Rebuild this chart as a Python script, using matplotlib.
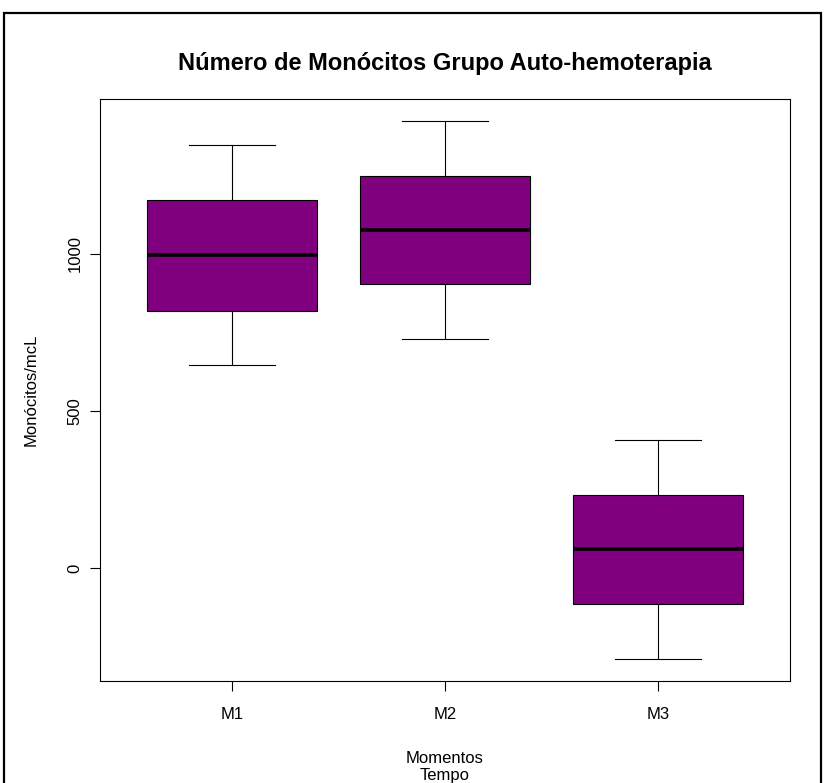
import matplotlib
matplotlib.use("Agg")
import matplotlib.pyplot as plt
from matplotlib.patches import Rectangle

plt.rcParams['font.family'] = ['Liberation Sans', 'DejaVu Sans']

# Data
categories = ["M1", "M2", "M3"]
whisker_low = [646, 728, -290]
q1_values = [819, 903, -115]
medians = [995, 1075, 60]
q3_values = [1171, 1249, 232]
whisker_high = [1345, 1424, 408]
yticks = [0, 500, 1000]

title = "Número de Monócitos Grupo Auto-hemoterapia"
xlabel = "Momentos\nTempo"
ylabel = "Monócitos/mcL"

W, H = 824, 783
fig = plt.figure(figsize=(W / 100, H / 100), dpi=100)
ax = fig.add_axes([100 / W, 1 - 681 / H, 690 / W, 582 / H])

stats = []
for lab, lo, a, m, b, hi in zip(categories, whisker_low, q1_values, medians, q3_values, whisker_high):
    stats.append(dict(label=lab, whislo=lo, q1=a, med=m, q3=b, whishi=hi, fliers=[]))

ax.bxp(stats, positions=[1, 2, 3], widths=0.8, capwidths=0.4, patch_artist=True,
       showfliers=False,
       boxprops=dict(facecolor="#800080", edgecolor="black", linewidth=0.8),
       medianprops=dict(color="black", linewidth=2.6, solid_capstyle="butt"),
       whiskerprops=dict(color="black", linewidth=0.8),
       capprops=dict(color="black", linewidth=0.8))

lo_all = min(whisker_low)
hi_all = max(whisker_high)
rng = hi_all - lo_all
ax.set_ylim(lo_all - 0.04 * rng, hi_all + 0.04 * rng)
ax.set_xlim(0.5 - 0.04 * 3, 3.5 + 0.04 * 3)

ax.set_yticks(yticks)
ax.set_yticklabels([str(v) for v in yticks])
ax.set_xticks([1, 2, 3])
ax.set_xticklabels(categories)
ax.tick_params(axis='both', direction='out', length=7, width=0.8, labelsize=12, colors='black')
ax.tick_params(axis='y', pad=5.7)
ax.tick_params(axis='x', pad=12)
for t in ax.get_yticklabels():
    t.set_rotation(90)
    t.set_va('center')
    t.set_ha('right')

for s in ax.spines.values():
    s.set_linewidth(0.8)
    s.set_color('black')

ax.set_title(title, fontsize=17, fontweight='bold', pad=21)
ax.set_xlabel(xlabel, fontsize=12, linespacing=1.15)
ax.xaxis.set_label_coords(0.5, (681 - 751) / 582)
ax.set_ylabel(ylabel, fontsize=12)
ax.yaxis.set_label_coords((39 - 100) / 690, 0.5)

# outer frame
fig.add_artist(Rectangle((4 / W, -0.02), 817 / W, 1 - 13 / H + 0.02, transform=fig.transFigure,
                         fill=False, edgecolor='black', linewidth=1.6))

fig.savefig("out.png", dpi=100)
